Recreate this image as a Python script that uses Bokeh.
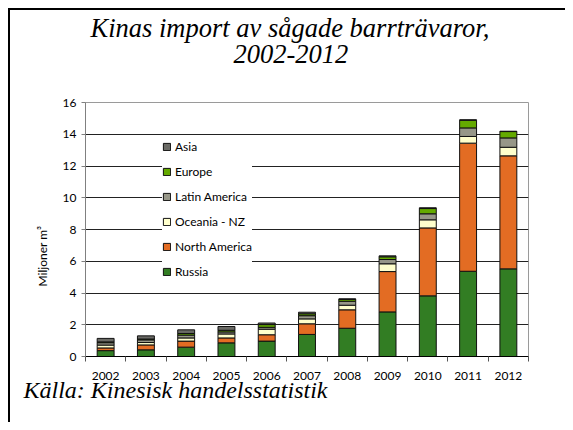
from bokeh.plotting import figure
from bokeh.models import FixedTicker, Legend, LegendItem, Range1d, ColumnDataSource, Title, Spacer
from bokeh.layouts import column, row
from bokeh.embed import file_html
from bokeh.resources import INLINE

years = [2002, 2003, 2004, 2005, 2006, 2007, 2008, 2009, 2010, 2011, 2012]
series_names = ["Russia", "North America", "Oceania - NZ", "Latin America", "Europe", "Asia"]
russia = [0.37, 0.42, 0.59, 0.86, 0.97, 1.39, 1.78, 2.81, 3.82, 5.37, 5.52]
north_america = [0.17, 0.31, 0.38, 0.31, 0.40, 0.67, 1.16, 2.54, 4.28, 8.07, 7.12]
oceania_nz = [0.18, 0.15, 0.20, 0.25, 0.35, 0.31, 0.29, 0.49, 0.51, 0.42, 0.54]
latin_america = [0.15, 0.17, 0.18, 0.13, 0.12, 0.20, 0.25, 0.27, 0.38, 0.54, 0.59]
europe = [0.05, 0.05, 0.10, 0.10, 0.17, 0.12, 0.12, 0.17, 0.33, 0.48, 0.40]
asia = [0.22, 0.20, 0.23, 0.24, 0.10, 0.10, 0.03, 0.06, 0.05, 0.03, 0.02]
y_ticks = [0, 2, 4, 6, 8, 10, 12, 14, 16]

title_line1 = "Kinas import av sågade barrträvaror,"
title_line2 = "2002-2012"
y_label = "Miljoner m³"
source_text = "Källa: Kinesisk handelsstatistik"

colors = ["#327D23", "#E36C23", "#FFFFCC", "#979788", "#64AA00", "#6A6A65"]
keys = ["russia", "north_america", "oceania_nz", "latin_america", "europe", "asia"]

src = ColumnDataSource(dict(year=years, russia=russia, north_america=north_america,
                            oceania_nz=oceania_nz, latin_america=latin_america,
                            europe=europe, asia=asia))

p = figure(width=555, height=412, output_backend="svg", toolbar_location=None, title=None,
           x_range=Range1d(years[0] - 0.5, years[-1] + 0.5), y_range=Range1d(0, 16),
           min_border_left=75, min_border_right=37, min_border_top=92, min_border_bottom=66,
           tools="")
p.background_fill_color = "white"
p.border_fill_color = "white"
p.outline_line_color = "#9a9a9a"
p.outline_line_width = 1

renderers = p.vbar_stack(keys, x="year", width=0.42, source=src, color=colors,
                         line_color="#111111", line_width=1)

# axes
p.xaxis.ticker = FixedTicker(ticks=years, minor_ticks=[y - 0.5 for y in years] + [years[-1] + 0.5])
p.xaxis.major_tick_out = 0
p.xaxis.major_tick_in = 0
p.xaxis.minor_tick_out = 5
p.xaxis.minor_tick_in = 0
p.xaxis.minor_tick_line_color = "#555555"
p.xaxis.axis_line_color = "black"
p.xaxis.major_label_standoff = 10
p.xaxis.major_label_text_font = "Lato"
p.xaxis.major_label_text_font_size = "12px"
p.xaxis.major_label_text_color = "black"

p.yaxis.ticker = FixedTicker(ticks=y_ticks)
p.yaxis.minor_tick_line_color = None
p.yaxis.major_tick_out = 4
p.yaxis.major_tick_in = 0
p.yaxis.major_tick_line_color = "#808080"
p.yaxis.axis_line_color = "#808080"
p.yaxis.major_label_standoff = 5
p.yaxis.major_label_text_font = "Lato"
p.yaxis.major_label_text_font_size = "12px"
p.yaxis.major_label_text_color = "black"

p.xgrid.grid_line_color = None
p.ygrid.grid_line_color = "#222222"
p.ygrid.grid_line_width = 1

# legend (top item Asia, bottom Russia)
items = [LegendItem(label=n, renderers=[r]) for n, r in zip(series_names, renderers)][::-1]
legend = Legend(items=items, location=(77, 77), padding=6, spacing=10, margin=0,
                glyph_width=9, glyph_height=9, label_height=14, label_standoff=4,
                border_line_color=None, background_fill_color="white", background_fill_alpha=1,
                label_text_font="Lato", label_text_font_size="12px", label_text_color="black")
p.add_layout(legend)

# titles (a blank spacer title keeps the two title lines away from the plot area)
serif = dict(text_font="Liberation Serif", text_font_style="italic", text_color="black")
p.add_layout(Title(text=" ", align="left", text_font_size="26.5px", standoff=7, **serif), "above")
p.add_layout(Title(text=title_line2, align="left", offset=148, text_font_size="26.5px", standoff=2, **serif), "above")
p.add_layout(Title(text=title_line1, align="left", offset=5, text_font_size="26.5px", standoff=-2, **serif), "above")
p.add_layout(Title(text=source_text, align="left", offset=-62, text_font_size="24px", standoff=-16, **serif), "below")
p.add_layout(Title(text=y_label, align="left", offset=70, text_font="Lato", text_font_size="12px",
                   text_font_style="normal", text_color="black", standoff=19), "left")

top_bar = Spacer(width=557, height=2, background="black")
left_bar = Spacer(width=2, height=412, background="black")
framed = column(top_bar, row(left_bar, p, spacing=0), spacing=0)
layout = column(Spacer(height=8), row(Spacer(width=8), framed, spacing=0), spacing=0)

open("out.html", "w").write(file_html(layout, INLINE))
